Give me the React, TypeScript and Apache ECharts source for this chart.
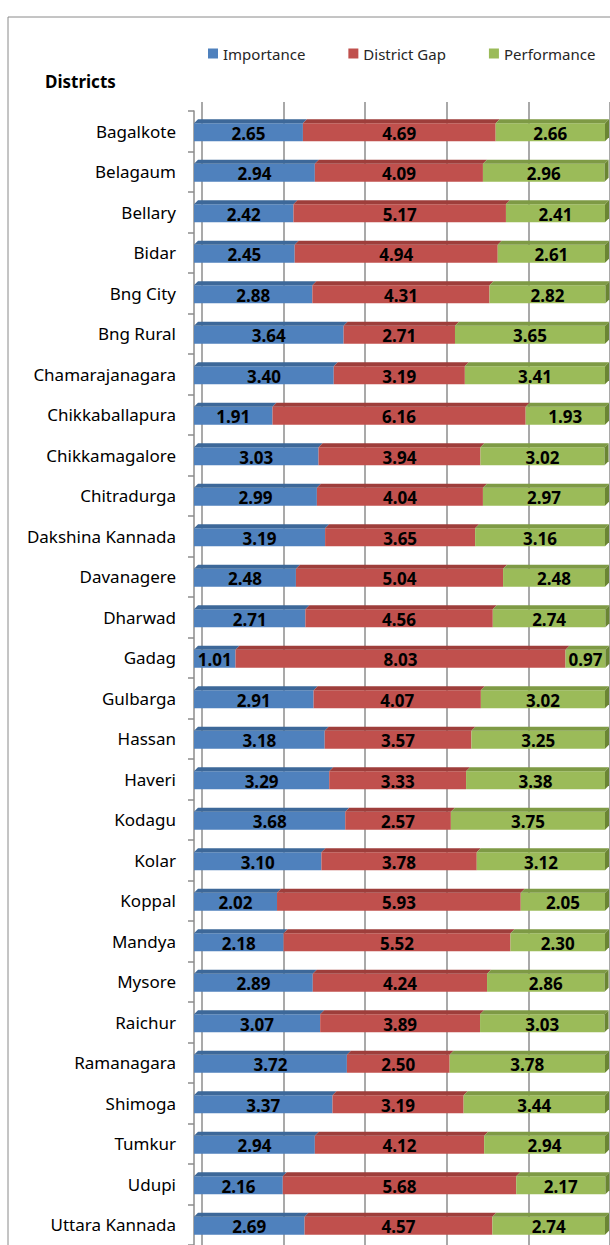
import React, { useEffect, useRef } from "react";
import * as echarts from "echarts";

const categories = [
  "Bagalkote", "Belagaum", "Bellary", "Bidar", "Bng City", "Bng Rural",
  "Chamarajanagara", "Chikkaballapura", "Chikkamagalore", "Chitradurga",
  "Dakshina Kannada", "Davanagere", "Dharwad", "Gadag", "Gulbarga", "Hassan",
  "Haveri", "Kodagu", "Kolar", "Koppal", "Mandya", "Mysore", "Raichur",
  "Ramanagara", "Shimoga", "Tumkur", "Udupi", "Uttara Kannada",
];
const importance = [
  2.65, 2.94, 2.42, 2.45, 2.88, 3.64, 3.4, 1.91, 3.03, 2.99, 3.19, 2.48, 2.71,
  1.01, 2.91, 3.18, 3.29, 3.68, 3.1, 2.02, 2.18, 2.89, 3.07, 3.72, 3.37, 2.94,
  2.16, 2.69,
];
const districtGap = [
  4.69, 4.09, 5.17, 4.94, 4.31, 2.71, 3.19, 6.16, 3.94, 4.04, 3.65, 5.04, 4.56,
  8.03, 4.07, 3.57, 3.33, 2.57, 3.78, 5.93, 5.52, 4.24, 3.89, 2.5, 3.19, 4.12,
  5.68, 4.57,
];
const performance = [
  2.66, 2.96, 2.41, 2.61, 2.82, 3.65, 3.41, 1.93, 3.02, 2.97, 3.16, 2.48, 2.74,
  0.97, 3.02, 3.25, 3.38, 3.75, 3.12, 2.05, 2.3, 2.86, 3.03, 3.78, 3.44, 2.94,
  2.17, 2.74,
];
const seriesNames = ["Importance", "District Gap", "Performance"];
const xTicks = { min: 0, max: 10, interval: 2 };

const FONT = '"Noto Sans", "DejaVu Sans", sans-serif';
const fronts = ["#4F81BD", "#C0504D", "#9BBB59"];
const tops = ["#3D6899", "#9E3E3B", "#7E9A45"];
const side = "#6A8534";

export default function App() {
  const ref = useRef<HTMLDivElement>(null);
  useEffect(() => {
    if (!ref.current) return;
    const chart = echarts.init(ref.current, undefined, { renderer: "svg" });
    const allSeries = [importance, districtGap, performance];
    const starts: number[][] = allSeries.map(() => []);
    categories.forEach((_, i) => {
      let acc = 0;
      allSeries.forEach((s, k) => {
        starts[k][i] = acc;
        acc += s[i];
      });
    });
    const dx = 4;
    const dy = 4;
    const h = 18;
    const series = allSeries.map((vals, k) => ({
      type: "custom",
      name: seriesNames[k],
      xAxisIndex: 0,
      yAxisIndex: 0,
      itemStyle: { color: fronts[k] },
      encode: { x: [0, 1], y: 2 },
      data: vals.map((v, i) => [starts[k][i], starts[k][i] + v, i, v]),
      renderItem: (params: any, api: any) => {
        const s = api.value(0);
        const e = api.value(1);
        const idx = api.value(2);
        const v = api.value(3);
        const p0 = api.coord([s, idx]);
        const p1 = api.coord([e, idx]);
        const y0 = p0[1] - h / 2 + 1;
        const x0 = p0[0];
        const x1 = p1[0];
        const children: any[] = [
          {
            type: "rect",
            shape: { x: x0, y: y0, width: x1 - x0, height: h },
            style: { fill: fronts[k] },
          },
          {
            type: "polygon",
            shape: {
              points: [
                [x0, y0],
                [x1, y0],
                [x1 + dx, y0 - dy],
                [x0 + dx, y0 - dy],
              ],
            },
            style: { fill: tops[k] },
          },
        ];
        if (k === 2) {
          children.push({
            type: "polygon",
            shape: {
              points: [
                [x1, y0],
                [x1 + dx, y0 - dy],
                [x1 + dx, y0 + h - dy],
                [x1, y0 + h],
              ],
            },
            style: { fill: side },
          });
        }
        children.push({
          type: "text",
          x: (x0 + x1) / 2,
          y: y0 + h / 2 + 1,
          style: {
            text: v.toFixed(2),
            font: `bold 17px ${FONT}`,
            fill: "#000",
            align: "center",
            verticalAlign: "middle",
          },
        });
        return { type: "group", children };
      },
    }));

    chart.setOption({
      animation: false,
      backgroundColor: "#fff",
      title: {
        text: "Districts",
        left: 40,
        top: 68,
        textStyle: { fontSize: 17, fontWeight: "bold", color: "#000", fontFamily: FONT },
      },
      legend: {
        data: seriesNames,
        left: 203,
        top: 41,
        icon: "rect",
        itemWidth: 10,
        itemHeight: 10,
        itemGap: 43,
        textStyle: { fontSize: 15, color: "#262626", fontFamily: FONT },
      },
      graphic: [
        {
          type: "rect",
          shape: { x: 8, y: 17, width: 700, height: 1400 },
          style: { fill: "none", stroke: "#8a8a8a", lineWidth: 1 },
          silent: true,
        },
      ],
      grid: [
        { left: 194, top: 111, width: 411, height: 1134 },
        { left: 202, top: 102, width: 411, height: 1143 },
      ],
      xAxis: [
        {
          type: "value",
          gridIndex: 0,
          ...xTicks,
          show: false,
        },
        {
          type: "value",
          gridIndex: 1,
          ...xTicks,
          axisLabel: { show: false },
          axisLine: { show: false },
          axisTick: { show: false },
          splitLine: { show: true, lineStyle: { color: "#8c8c8c", width: 1.5 } },
        },
      ],
      yAxis: [
        {
          type: "category",
          gridIndex: 0,
          data: categories,
          inverse: true,
          offset: 2,
          axisLine: { show: true, lineStyle: { color: "#8c8c8c", width: 1.5 } },
          axisTick: { show: true, length: 6, lineStyle: { color: "#8c8c8c", width: 1.5 } },
          axisLabel: { color: "#000", fontSize: 17, fontFamily: FONT, margin: 16 },
          splitLine: { show: false },
        },
        { type: "value", gridIndex: 1, show: false },
      ],
      series,
    });
    return () => chart.dispose();
  }, []);
  return (
    <div
      ref={ref}
      style={{ position: "fixed", left: 0, top: 0, width: 610, height: 1245 }}
    />
  );
}
